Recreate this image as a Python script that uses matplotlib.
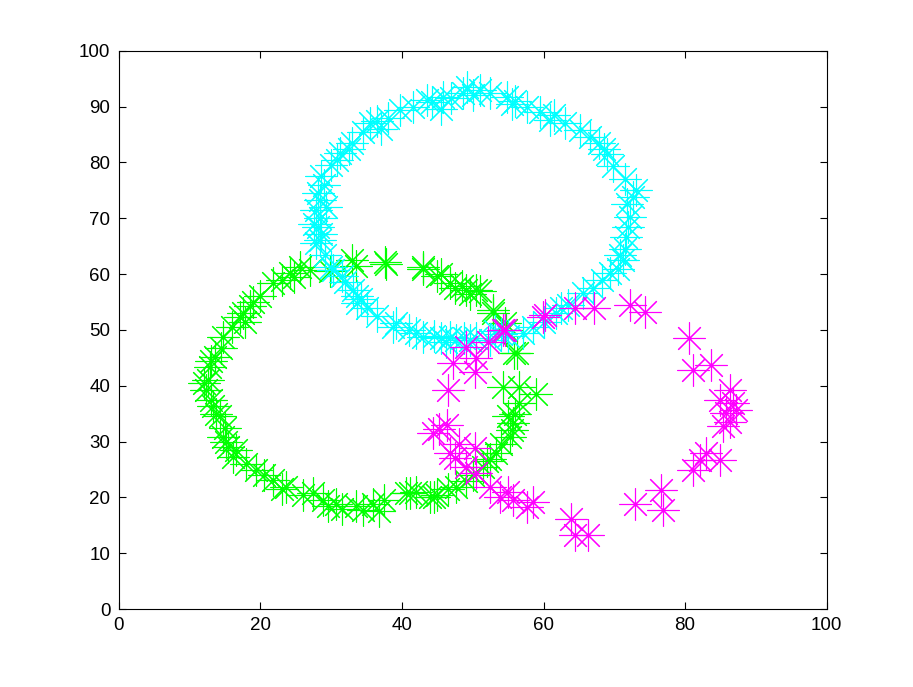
import numpy as np
import matplotlib.pyplot as plt

plt.rcParams['font.family'] = ['Liberation Sans', 'DejaVu Sans']

# ring 1 (cyan)
cyan_x = [28.6, 29.0, 28.2, 28.5, 27.9, 28.4, 28.2, 28.6, 28.4, 27.9, 29.2, 30.0, 30.3, 31.5,
          33.1, 33.6, 33.6, 35.0, 36.5, 38.7, 39.2, 41.0, 43.0, 44.5, 45.5, 46.8, 47.7, 48.8,
          49.6, 50.5, 52.4, 54.0, 55.0, 57.1, 58.5, 60.0, 61.8, 63.5, 65.6, 67.0, 69.4, 70.5,
          71.2, 71.5, 71.7, 72.0, 72.2, 71.8, 73.1, 71.5, 69.8, 69.0, 67.9, 66.5, 65.1, 63.0,
          60.9, 59.5, 57.6, 56.0, 54.8, 52.5, 51.0, 50.0, 48.6, 47.0, 45.8, 45.5, 43.5, 41.5,
          39.7, 38.0, 36.5, 35.5, 34.5, 33.0, 31.2, 32.5, 30.0,
          29.3, 27.6, 32.0, 34.2, 42.0, 46.2, 53.2, 62.5, 68.2, 70.8, 72.6, 68.5, 61.5, 55.5,
          49.2, 44.2, 37.0, 30.8]
cyan_y = [77.5, 76.0, 74.5, 73.2, 71.5, 70.0, 68.5, 67.2, 66.1, 65.5, 63.5, 61.3, 60.8, 59.6,
          57.2, 56.0, 54.8, 54.0, 52.5, 50.6, 51.2, 50.0, 48.8, 49.0, 48.5, 48.8, 48.2, 48.5,
          48.2, 48.6, 48.2, 49.2, 49.0, 49.4, 50.6, 51.5, 53.0, 54.5, 56.6, 57.5, 60.2, 61.0,
          62.5, 64.5, 66.7, 68.5, 70.3, 72.5, 75.1, 77.0, 79.3, 81.5, 83.5, 84.5, 85.8, 87.0,
          87.6, 89.0, 90.0, 91.0, 91.8, 92.5, 93.0, 92.0, 92.4, 91.5, 91.8, 89.5, 91.2, 90.0,
          89.4, 88.0, 87.5, 87.0, 85.5, 83.5, 81.7, 82.5, 79.5,
          72.0, 69.0, 58.5, 55.5, 49.5, 47.8, 49.8, 54.0, 59.0, 63.5, 73.8, 82.5, 88.5, 90.5,
          93.5, 90.8, 86.0, 80.5]

# ring 2 (green)
green_x = [25.6, 27.0, 29.8, 32.9, 33.5, 37.6, 37.8, 43.0, 43.0, 44.9, 45.5, 46.8, 47.5, 48.5,
           49.1, 49.6, 50.5, 51.0, 52.9, 52.9, 54.5, 54.7, 55.9, 56.2, 54.3, 56.6, 59.0, 56.6,
           56.0, 55.7, 55.5, 55.2, 54.0, 53.3, 52.5, 51.5, 50.0, 49.0, 47.7, 46.5, 45.0, 43.9,
           42.0, 41.1, 40.6, 37.5, 35.9, 34.5, 33.5, 31.5, 30.7, 28.9, 27.4, 26.0, 23.7, 23.0,
           21.8, 20.5, 19.4, 18.0, 16.1, 15.5, 14.7, 15.0, 14.3, 13.3, 13.0, 12.4, 12.6, 12.9,
           13.0, 13.6, 14.5, 14.7, 16.0, 17.1, 17.5, 18.5, 20.0, 21.8, 23.0, 24.2,
           12.0, 13.8, 15.2, 17.8, 24.8, 29.5, 36.8, 44.6, 52.0, 55.0, 16.5, 19.0]
green_y = [61.3, 60.8, 60.5, 62.5, 61.5, 62.2, 61.9, 61.3, 61.0, 59.6, 60.0, 58.4, 57.5, 57.8,
           57.2, 56.5, 57.2, 57.0, 53.0, 53.6, 51.2, 50.0, 45.8, 45.8, 39.8, 39.8, 38.6, 36.9,
           35.0, 33.3, 32.0, 30.9, 29.5, 27.9, 26.8, 25.5, 24.0, 23.0, 21.9, 21.5, 20.5, 20.1,
           21.0, 20.7, 20.7, 19.5, 18.9, 17.7, 18.5, 18.0, 18.9, 19.5, 20.7, 20.5, 21.9, 21.5,
           23.1, 24.0, 24.9, 26.0, 27.3, 29.0, 30.9, 32.5, 34.5, 36.3, 37.5, 39.2, 41.0, 43.4,
           44.5, 45.2, 46.8, 48.8, 50.5, 52.4, 53.0, 54.2, 56.0, 58.4, 59.0, 60.2,
           40.5, 35.0, 30.0, 51.5, 59.5, 18.5, 17.5, 20.0, 26.5, 34.5, 28.5, 55.0]

# ring 3 (magenta)
mag_x = [54.5, 54.3, 52.2, 50.5, 50.3, 47.2, 46.5, 46.3, 44.4, 45.2, 46.8, 47.5, 49.1, 50.3,
         50.5, 52.4, 53.8, 55.7, 55.0, 57.6, 58.5, 63.9, 64.4, 66.3, 72.9, 76.6, 76.9, 81.1,
         82.1, 83.0, 84.9, 85.4, 85.8, 86.3, 87.2, 86.8, 84.9, 86.3, 83.7, 81.1, 80.6, 74.3,
         72.2, 67.2, 64.4, 60.2, 59.9, 49.0, 48.0]
mag_y = [50.0, 50.0, 47.9, 44.9, 42.5, 44.0, 39.2, 33.0, 31.5, 32.2, 27.9, 27.0, 25.5, 28.8,
         24.3, 21.9, 20.1, 19.5, 21.0, 18.3, 19.2, 16.2, 13.3, 13.3, 18.9, 21.3, 17.7, 24.9,
         26.7, 27.9, 26.7, 32.7, 35.1, 33.5, 35.7, 36.9, 37.5, 39.2, 43.7, 42.8, 48.5, 53.3,
         54.5, 53.9, 53.9, 52.7, 52.4, 47.0, 29.5]

fig = plt.figure(figsize=(9.13, 6.87), dpi=100)
ax = fig.add_axes([0.130, 0.1135, 0.7755, 0.8125])

star = dict(linestyle='none', marker=(8, 2, 0), markersize=23, markeredgewidth=0.8)
ax.plot(green_x, green_y, color=(0, 1, 0), **star)
ax.plot(cyan_x, cyan_y, color=(0, 1, 1), **star)
ax.plot(mag_x, mag_y, color=(1, 0, 1), **star)

ax.set_xlim(0, 100)
ax.set_ylim(0, 100)
ax.set_xticks(np.arange(0, 101, 20))
ax.set_yticks(np.arange(0, 101, 10))
ax.tick_params(direction='in', length=5, width=0.8, top=True, right=True,
               labelsize=13.5, pad=6)
for s in ax.spines.values():
    s.set_linewidth(0.8)

fig.savefig('out.png', dpi=100)
